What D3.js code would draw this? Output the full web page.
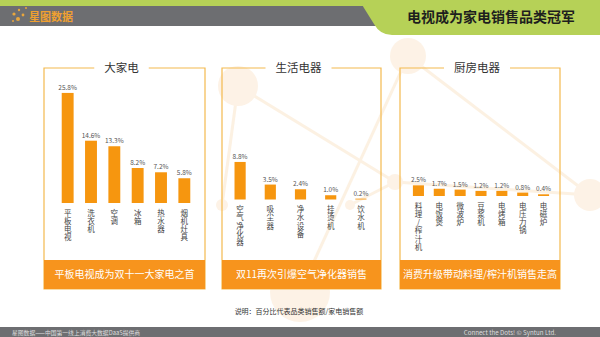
<!DOCTYPE html>
<html><head><meta charset="utf-8">
<script src="https://cdn.jsdelivr.net/npm/d3@7"></script>
<style>
html,body{margin:0;padding:0;background:#fff;}
svg{display:block;font-family:"Noto Sans CJK SC","Noto Sans",sans-serif;}
.cat{writing-mode:vertical-rl;text-orientation:upright;}
</style></head>
<body><svg id="c" width="600" height="337"></svg>
<script>
// ---- data ----
const chartTitle = "电视成为家电销售品类冠军";
const logoText = "星图数据";
const panelTitles = ["大家电", "生活电器", "厨房电器"];
const bigCats = ["平板电视", "洗衣机", "空调", "冰箱", "热水器", "烟机灶具"];
const bigVals = [25.8, 14.6, 13.3, 8.2, 7.2, 5.8];
const lifeCats = ["空气净化器", "吸尘器", "净水设备", "挂烫机", "饮水机"];
const lifeVals = [8.8, 3.5, 2.4, 1.0, 0.2];
const kitchenCats = ["料理/榨汁机", "电饭煲", "微波炉", "豆浆机", "电烤箱", "电压力锅", "电磁炉"];
const kitchenVals = [2.5, 1.7, 1.5, 1.2, 1.2, 0.8, 0.4];
const panelNotes = ["平板电视成为双十一大家电之首", "双11再次引爆空气净化器销售", "消费升级带动料理/榨汁机销售走高"];
const caption = "说明：百分比代表品类销售额/家电销售额";
const footerLeft = "星图数据——中国第一线上消费大数据DaaS提供商";
const footerRight = "Connect the Dots! © Syntun Ltd.";

// ---- layout ----
const svg = d3.select("#c");
const ORANGE = "#f7941d", BORDER = "#f3b94f";

// faint background network decoration
const deco = svg.append("g").attr("opacity", 0.55);
const nodes = [[238, 86, 20], [408, 56, 18], [395, 182, 8], [300, 292, 30], [590, 195, 16], [222, 205, 6], [350, 205, 5]];
[[0, 2], [1, 3], [0, 5], [2, 4], [2, 6], [1, 4]].forEach(([a, b]) => {
  deco.append("line").attr("x1", nodes[a][0]).attr("y1", nodes[a][1])
    .attr("x2", nodes[b][0]).attr("y2", nodes[b][1])
    .attr("stroke", "#fbe6cc").attr("stroke-width", 3);
});
nodes.forEach(n => deco.append("circle").attr("cx", n[0]).attr("cy", n[1]).attr("r", n[2]).attr("fill", "#fde9d2"));

// header
svg.append("rect").attr("x", 0).attr("y", 0).attr("width", 600).attr("height", 6).attr("fill", "#b6d157");
svg.append("rect").attr("x", 0).attr("y", 6).attr("width", 380).attr("height", 20).attr("fill", "#6d6e71");
svg.append("path").attr("d", "M350,0 L600,0 L600,35 L392,35 Q380,35 374,24 L364,8 Q360,0 350,0 Z").attr("fill", "#b6d157");
svg.append("text").attr("x", 491).attr("y", 22).attr("text-anchor", "middle")
  .attr("font-size", 14).attr("font-weight", "bold").attr("fill", "#1e1e1e").text(chartTitle);
// logo
const logo = svg.append("g");
[[14, 14, 1.6], [19, 10, 1.2], [23, 15, 1.4], [18, 19, 2], [26, 8, 1], [13, 21, 1]].forEach(d =>
  logo.append("circle").attr("cx", d[0]).attr("cy", d[1]).attr("r", d[2]).attr("fill", "#e9a63c"));
logo.append("text").attr("x", 29).attr("y", 20.5).attr("font-size", 11).attr("font-weight", "bold")
  .attr("fill", "#f0a030").text(logoText);

const y = d3.scaleLinear().domain([0, 30]).range([0, 128]);

const panels = [
  {x0: 44, x1: 205, base: 203, r0: 56, r1: 196, pad: 0.49, cats: bigCats, vals: bigVals},
  {x0: 222, x1: 381, base: 199.5, r0: 225, r1: 376, pad: 0.63, cats: lifeCats, vals: lifeVals},
  {x0: 400, x1: 560, base: 196, r0: 408, r1: 554, pad: 0.47, cats: kitchenCats, vals: kitchenVals}
];
const panelTop = 68, bandTop = 260, panelBottom = 289;

panels.forEach((p, i) => {
  const g = svg.append("g");
  const cx = (p.x0 + p.x1) / 2 - 3;
  // title
  const t = g.append("text").attr("x", cx).attr("y", panelTop + 4).attr("text-anchor", "middle")
    .attr("font-size", 11.5).attr("fill", "#333").text(panelTitles[i]);
  const tw = t.node().getComputedTextLength();
  const gapL = cx - tw / 2 - 10, gapR = cx + tw / 2 + 10;
  g.append("path").attr("fill", "none").attr("stroke", BORDER).attr("stroke-width", 1.2)
    .attr("d", `M${gapL},${panelTop} L${p.x0},${panelTop} L${p.x0},${panelBottom} L${p.x1},${panelBottom} L${p.x1},${panelTop} L${gapR},${panelTop}`);
  // bottom band
  g.append("rect").attr("x", p.x0).attr("y", bandTop).attr("width", p.x1 - p.x0).attr("height", panelBottom - bandTop).attr("fill", ORANGE);
  g.append("text").attr("x", (p.x0 + p.x1) / 2).attr("y", bandTop + 18).attr("text-anchor", "middle")
    .attr("font-size", 10).attr("fill", "#fff").text(panelNotes[i]);

  const x = d3.scaleBand().domain(p.cats).range([p.r0, p.r1]).paddingInner(p.pad).paddingOuter(p.pad / 2);
  const data = p.cats.map((c, k) => ({c, v: p.vals[k]}));
  g.selectAll("rect.bar").data(data).join("rect").attr("class", "bar")
    .attr("x", d => x(d.c)).attr("width", x.bandwidth())
    .attr("y", d => p.base - y(d.v)).attr("height", d => y(d.v)).attr("fill", "#f6960f");
  g.selectAll("text.val").data(data).join("text").attr("class", "val")
    .attr("x", d => x(d.c) + x.bandwidth() / 2).attr("y", d => p.base - y(d.v) - 3)
    .attr("text-anchor", "middle").attr("font-size", 6.5).attr("fill", "#555")
    .text(d => d.v.toFixed(1) + "%");
  g.selectAll("text.cat").data(data).join("text").attr("class", "cat")
    .attr("x", d => x(d.c) + x.bandwidth() / 2).attr("y", p.base + 6)
    .attr("font-size", 7.5).attr("letter-spacing", 0.8).attr("fill", "#444")
    .text(d => d.c);
});

svg.append("text").attr("x", 299).attr("y", 314).attr("text-anchor", "middle")
  .attr("font-size", 7).attr("fill", "#333").text(caption);

svg.append("rect").attr("x", 0).attr("y", 327).attr("width", 600).attr("height", 10).attr("fill", "#6d6e71");
svg.append("text").attr("x", 12).attr("y", 334.5).attr("font-size", 5.8).attr("fill", "#ddd").text(footerLeft);
svg.append("text").attr("x", 556).attr("y", 334.5).attr("text-anchor", "end").attr("font-size", 6.2).attr("fill", "#ddd").text(footerRight);
</script></body></html>
